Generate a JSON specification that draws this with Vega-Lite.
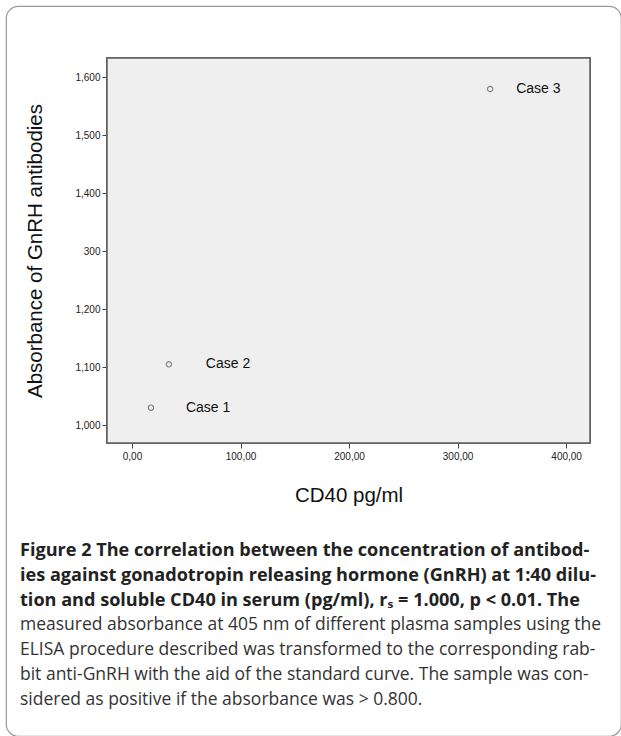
{
  "$schema": "https://vega.github.io/schema/vega-lite/v6.json",
  "autosize": {"type": "none"},
  "padding": {"left": 6, "top": 6, "right": 0, "bottom": 0},
  "width": 615,
  "height": 730,
  "background": "white",
  "view": {"stroke": "#999999", "strokeWidth": 1.2, "cornerRadius": 12, "fill": "white"},
  "data": {
    "values": [
      {"case": "Case 1", "cd40": 17.5, "absorbance": 1.03},
      {"case": "Case 2", "cd40": 34, "absorbance": 1.105},
      {"case": "Case 3", "cd40": 330, "absorbance": 1.58}
    ]
  },
  "title": {
    "text": [
      "Figure 2 The correlation between the concentration of antibod-",
      "ies against gonadotropin releasing hormone (GnRH) at 1:40 dilu-",
      "tion and soluble CD40 in serum (pg/ml), rₛ = 1.000, p < 0.01. The"
    ],
    "subtitle": [
      "measured absorbance at 405 nm of different plasma samples using the",
      "ELISA procedure described was transformed to the corresponding rab-",
      "bit anti-GnRH with the aid of the standard curve. The sample was con-",
      "sidered as positive if the absorbance was > 0.800."
    ],
    "orient": "bottom",
    "anchor": "start",
    "frame": "group",
    "offset": -194,
    "dx": 14,
    "font": "Open Sans",
    "fontSize": 18.1,
    "fontWeight": "bold",
    "lineHeight": 25,
    "color": "#222222",
    "subtitleFont": "Open Sans",
    "subtitleFontSize": 17.5,
    "subtitleFontWeight": "normal",
    "subtitleLineHeight": 25,
    "subtitleColor": "#333333",
    "subtitlePadding": 6
  },
  "encoding": {
    "x": {
      "field": "cd40",
      "type": "quantitative",
      "scale": {"domain": [-23, 422], "range": [101, 584], "nice": false, "zero": false},
      "axis": {
        "title": "CD40 pg/ml",
        "orient": "bottom",
        "offset": -293,
        "values": [0, 100, 200, 300, 400],
        "labelExpr": "replace(format(datum.value, '.2f'), '.', ',')",
        "domain": false,
        "grid": false,
        "ticks": true,
        "tickSize": 5,
        "tickColor": "#444444",
        "labelFont": "Liberation Sans",
        "labelFontSize": 10,
        "labelColor": "#222222",
        "labelPadding": 3,
        "titleFont": "Liberation Sans",
        "titleFontSize": 20.5,
        "titleFontWeight": "normal",
        "titleColor": "#111111",
        "titlePadding": 24
      }
    },
    "y": {
      "field": "absorbance",
      "type": "quantitative",
      "scale": {"domain": [0.969, 1.6335], "range": [437, 52], "nice": false, "zero": false},
      "axis": {
        "title": "Absorbance of GnRH antibodies",
        "orient": "left",
        "offset": -101,
        "values": [1.0, 1.1, 1.2, 1.3, 1.4, 1.5, 1.6],
        "labelExpr": "abs(datum.value - 1.3) < 0.001 ? '300' : replace(format(datum.value, '.3f'), '.', ',')",
        "domain": false,
        "grid": false,
        "tickSize": 5,
        "tickColor": "#444444",
        "labelFont": "Liberation Sans",
        "labelFontSize": 10,
        "labelColor": "#222222",
        "labelPadding": 2,
        "titleFont": "Liberation Sans",
        "titleFontSize": 20.5,
        "titleFontWeight": "normal",
        "titleColor": "#111111",
        "titlePadding": 29
      }
    }
  },
  "layer": [
    {
      "mark": {"type": "rect", "fill": "#efefef", "stroke": "#606060", "strokeWidth": 1.5},
      "encoding": {
        "x": {"datum": -23, "type": "quantitative"},
        "x2": {"datum": 422},
        "y": {"datum": 0.969, "type": "quantitative"},
        "y2": {"datum": 1.6335}
      }
    },
    {
      "mark": {"type": "point", "shape": "circle", "filled": false, "size": 28, "stroke": "#555555", "strokeWidth": 1.2}
    },
    {
      "transform": [{"filter": "datum.case === 'Case 1'"}],
      "mark": {"type": "text", "align": "left", "baseline": "middle", "dx": 35, "font": "Liberation Sans", "fontSize": 14, "color": "#111111"},
      "encoding": {"text": {"field": "case"}}
    },
    {
      "transform": [{"filter": "datum.case === 'Case 2'"}],
      "mark": {"type": "text", "align": "left", "baseline": "middle", "dx": 37, "font": "Liberation Sans", "fontSize": 14, "color": "#111111"},
      "encoding": {"text": {"field": "case"}}
    },
    {
      "transform": [{"filter": "datum.case === 'Case 3'"}],
      "mark": {"type": "text", "align": "left", "baseline": "middle", "dx": 26, "font": "Liberation Sans", "fontSize": 14, "color": "#111111"},
      "encoding": {"text": {"field": "case"}}
    }
  ]
}
